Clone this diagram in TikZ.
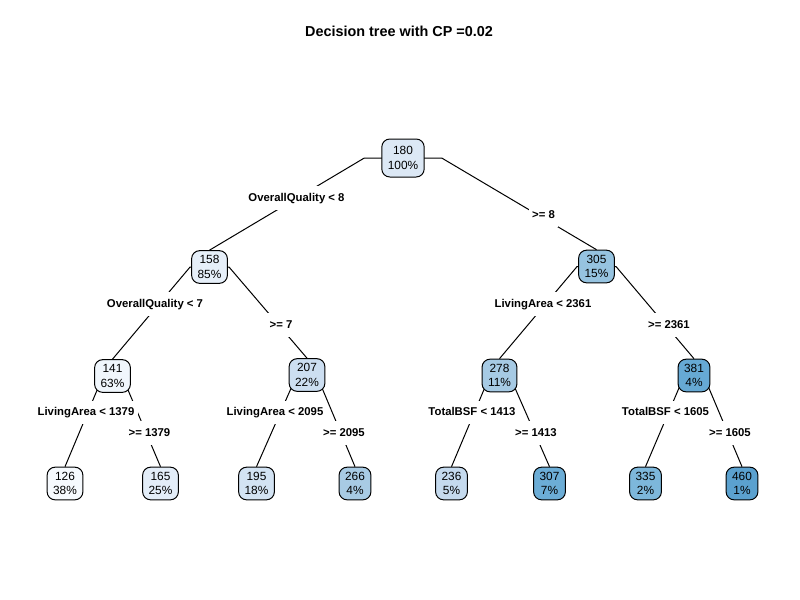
\documentclass[tikz,border=0pt]{standalone}
\usepackage{fontspec}
\setmainfont{Liberation Sans}
\usetikzlibrary{calc,backgrounds}
\definecolor{c126}{HTML}{F6FAFE}
\definecolor{c141}{HTML}{F0F6FC}
\definecolor{c158}{HTML}{E6EFF9}
\definecolor{c165}{HTML}{E3EDF8}
\definecolor{c180}{HTML}{DCE8F5}
\definecolor{c195}{HTML}{D3E3F3}
\definecolor{c207}{HTML}{CCDEF1}
\definecolor{c236}{HTML}{C5DAEE}
\definecolor{c266}{HTML}{A8CBE4}
\definecolor{c278}{HTML}{A6CAE4}
\definecolor{c305}{HTML}{96C3E0}
\definecolor{c307}{HTML}{6CADD6}
\definecolor{c335}{HTML}{7DB7DB}
\definecolor{c381}{HTML}{66A9D4}
\definecolor{c460}{HTML}{5BA1CF}
\tikzset{
  treenode/.style={draw, line width=0.75pt, rounded corners=6pt, inner xsep=4.5pt, inner ysep=3pt,
    align=center, font=\fontsize{8.9}{11}\selectfont, minimum height=24.5pt},
  rootnode/.style={treenode, minimum height=28.5pt, minimum width=31.5pt},
  splitlabel/.style={fill=white, font=\bfseries\fontsize{8.5}{10}\selectfont, text height=6.1pt,
    text depth=1.5pt, inner xsep=2.5pt, inner ysep=5pt},
  branch/.style={line width=0.75pt, black}
}
\begin{document}
\begin{tikzpicture}[x=0.75pt,y=-0.75pt]
\useasboundingbox (0,0) rectangle (800,600);
\node[font=\bfseries\fontsize{10.8}{12}\selectfont] (title) at (399,31) {Decision tree with CP =0.02};
% tree nodes
\node[rootnode, fill=c180] (root) at (403,158) {180\\100\%};
\node[treenode, fill=c158] (n158) at (209.5,267) {158\\85\%};
\node[treenode, fill=c305] (n305) at (596.5,266.5) {305\\15\%};
\node[treenode, fill=c141] (n141) at (112.5,376) {141\\63\%};
\node[treenode, fill=c207] (n207) at (307,375) {207\\22\%};
\node[treenode, fill=c278] (n278) at (499.5,375.5) {278\\11\%};
\node[treenode, fill=c381] (n381) at (694,375.5) {381\\4\%};
\node[treenode, fill=c126] (n126) at (65,483.5) {126\\38\%};
\node[treenode, fill=c165] (n165) at (160.5,483.5) {165\\25\%};
\node[treenode, fill=c195] (n195) at (256.5,483.5) {195\\18\%};
\node[treenode, fill=c266] (n266) at (355,483.5) {266\\4\%};
\node[treenode, fill=c236] (n236) at (451.5,483.5) {236\\5\%};
\node[treenode, fill=c307] (n307) at (549.5,483.5) {307\\7\%};
\node[treenode, fill=c335] (n335) at (645.5,483.5) {335\\2\%};
\node[treenode, fill=c460] (n460) at (742,483.5) {460\\1\%};
% split labels
\node[splitlabel] (l1a) at (296.5,198) {OverallQuality < 8};
\node[splitlabel] (l1b) at (543.5,215) {>= 8};
\node[splitlabel] (l2a) at (155,304) {OverallQuality < 7};
\node[splitlabel] (l2b) at (281,325) {>= 7};
\node[splitlabel] (l2c) at (543,304) {LivingArea < 2361};
\node[splitlabel] (l2d) at (669,325) {>= 2361};
\node[splitlabel] (l3a) at (86,412.5) {LivingArea < 1379};
\node[splitlabel] (l3b) at (149.5,433) {>= 1379};
\node[splitlabel] (l3c) at (275,412.5) {LivingArea < 2095};
\node[splitlabel] (l3d) at (344,433) {>= 2095};
\node[splitlabel] (l3e) at (472,412.5) {TotalBSF < 1413};
\node[splitlabel] (l3f) at (536,433) {>= 1413};
\node[splitlabel] (l3g) at (665.5,412.5) {TotalBSF < 1605};
\node[splitlabel] (l3h) at (730,433) {>= 1605};
% branches
\begin{pgfonlayer}{background}
\foreach \p/\c in {root/n158, root/n305, n158/n141, n158/n207, n305/n278, n305/n381,
  n141/n126, n141/n165, n207/n195, n207/n266, n278/n236, n278/n307, n381/n335, n381/n460}
  \draw[branch] (\p.center) -- ($(\p.center)!0.2!(\c.center |- \p.center)$) -- (\c.north);
\end{pgfonlayer}
\end{tikzpicture}
\end{document}
